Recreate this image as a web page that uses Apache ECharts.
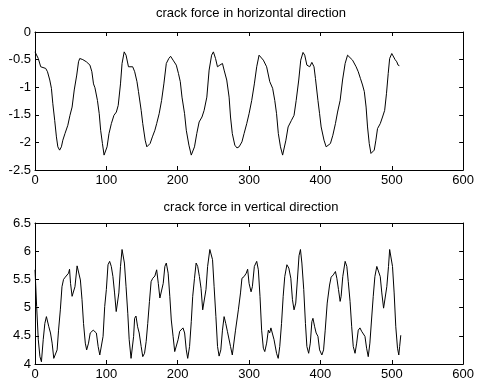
<!DOCTYPE html>
<html>
<head>
<meta charset="utf-8">
<script src="https://cdn.jsdelivr.net/npm/echarts@6/dist/echarts.min.js"></script>
<style>html,body{margin:0;padding:0;background:#fff}#c{width:477px;height:384px}</style>
</head>
<body>
<div id="c"></div>
<script>
var titles = ["crack force in horizontal direction", "crack force in vertical direction"];
var xTicks = [0, 100, 200, 300, 400, 500, 600];
var hYTicks = [-2.5, -2, -1.5, -1, -0.5, 0];
var vYTicks = [4, 4.5, 5, 5.5, 6, 6.5];

var hX = [0,4.6,8,10.6,15,17.5,20.7,23,25,27.6,30,32,34.5,37,39,42,46,49,52,55,58.5,61,62.7,67,72,77,79.7,82,84,87.5,90,92,94.5,96.8,99,101,103.7,107,110.6,114,116.6,119.8,122,125,127.6,131,133.6,136.9,139.7,142.9,145,148.8,151,154.4,156.7,159,161.3,164.5,168,170.5,174,177.4,180.6,184,187.5,190,193.5,198,201,203.6,206,209.6,212,215.7,219,221,223.5,226.7,230,234,237,240.8,244,247.5,250,253,255.7,259,262.7,265,268.7,272,274,276.5,280,283,286,290,293,296.7,300,303.7,307.4,310.7,314,316.7,320,324.6,329,333,336,338.5,341,344,347,349,351.6,354.7,359.4,363,366,369.6,372.4,375.6,378,381,385,388,391,393,396.5,398.8,401,405,408,410.4,414,417.4,421,424,427.6,431,434.6,438,440.6,445,450,453,456,459,461.5,464,466,468.4,470.8,473,475.4,477.7,480,483.8,487,490,492.6,495,497,500,502,504.6,507,508.8,510.6];
var hY = [-0.36,-0.48,-0.63,-0.66,-0.66,-0.72,-0.87,-1.02,-1.3,-1.6,-1.9,-2.08,-2.14,-2.08,-1.96,-1.84,-1.69,-1.51,-1.36,-1.05,-0.78,-0.54,-0.48,-0.5,-0.54,-0.6,-0.72,-0.94,-1.01,-1.24,-1.48,-1.78,-2.02,-2.23,-2.23,-2.08,-1.84,-1.66,-1.51,-1.45,-1.33,-0.94,-0.57,-0.36,-0.42,-0.63,-0.66,-0.63,-0.72,-0.9,-1.08,-1.42,-1.66,-1.96,-2.08,-2.08,-2.02,-1.9,-1.78,-1.66,-1.48,-1.24,-0.94,-0.57,-0.48,-0.44,-0.51,-0.6,-0.75,-0.9,-1.18,-1.48,-1.78,-2.05,-2.23,-2.23,-2.08,-1.84,-1.63,-1.54,-1.42,-1.18,-0.69,-0.42,-0.36,-0.48,-0.63,-0.6,-0.57,-0.69,-0.87,-1.18,-1.54,-1.84,-2.05,-2.1,-2.08,-1.99,-1.84,-1.66,-1.48,-1.24,-0.94,-0.63,-0.42,-0.44,-0.51,-0.63,-0.9,-1.02,-1.24,-1.48,-1.84,-2.08,-2.23,-2.2,-1.96,-1.72,-1.6,-1.51,-1.24,-0.87,-0.51,-0.37,-0.42,-0.6,-0.63,-0.55,-0.63,-0.84,-1.24,-1.48,-1.72,-1.96,-2.08,-2.11,-2.02,-1.87,-1.66,-1.45,-1.24,-0.87,-0.57,-0.42,-0.4,-0.51,-0.63,-0.72,-0.84,-0.96,-1.08,-1.36,-1.72,-2.02,-2.2,-2.23,-2.14,-1.96,-1.75,-1.66,-1.54,-1.42,-1.11,-0.75,-0.48,-0.39,-0.4,-0.5,-0.54,-0.6,-0.61];

var vX = [0,2.3,4.6,6.9,9,11.5,13.8,16,17.5,19.4,21.7,24,26.3,28.6,31,33,35.5,37.8,40,42.4,45,47,48.4,49.8,52,54,56,59,61.3,63.6,65.9,68,70.5,72.4,75,77.4,79.3,81.6,83.9,86,88.5,90.8,93,95.4,97.7,100,102.3,104.6,106.9,109.2,111.5,113.8,115,117.5,119.8,122,123.5,125.3,127.6,130,132,134.6,136.9,138.2,139.6,141.5,143.8,146,148.8,151,153.5,155.8,158,160.4,162.7,165,168,170.5,172.8,175,177.4,179.7,182,184,186.6,188.9,191,193.5,195.8,198,200.5,202.8,205,207.4,209.7,212,214,216.6,219,221,223.5,225.8,228,230.4,232.7,235,237.3,239.6,241.9,245,246.5,248.8,251,253.5,255.8,258,260.4,262.7,265,267.3,269.6,272,274,276.5,278.8,281,283,285,288,290,293,296,298,300,302.8,304.6,307.4,310.7,313,315.3,317.6,320,322,324.6,327,328.8,330.6,333,335,338.5,340.8,343,345.5,347.8,350,353,355.7,358.5,360.8,363,365.4,367.7,370,372,374,376.6,379,381,383.5,385.8,388,389.5,391.9,394,396.5,398.8,402,404.4,406.7,409.5,412.8,415,418,421,423,425.3,427.6,429,431.3,434.6,437,439,441.5,443.8,446,448.5,450.8,453,455.4,457.7,460,462.4,464.7,467,469.3,471.6,474,476.3,479,481.5,483.8,486,488.5,490.8,493,495.4,497,498.7,501,503.3,505.6,508,509.8,511,512.6];
var vY = [5.67,5.02,4.43,4.13,4.04,4.43,4.72,4.84,4.86,4.66,4.55,4.37,4.1,4.1,4.25,4.6,4.96,5.37,5.5,5.54,5.54,5.61,5.68,5.43,5.2,5.2,5.37,5.74,5.73,5.49,5.14,4.72,4.37,4.25,4.37,4.55,4.52,4.6,4.63,4.55,4.31,4.16,4.19,4.49,5.02,5.32,5.76,5.82,5.73,5.55,5.26,4.93,4.93,5.26,5.73,6.03,6.06,5.79,5.37,4.9,4.43,4.1,4.13,4.49,4.81,4.85,4.66,4.55,4.31,4.13,4.19,4.4,4.72,5.11,5.46,5.52,5.56,5.67,5.43,5.17,5.2,5.43,5.73,5.79,5.61,5.2,4.78,4.49,4.22,4.25,4.43,4.58,4.55,4.64,4.55,4.25,4.1,4.31,4.75,5.2,5.52,5.79,5.73,5.55,5.34,4.96,4.96,5.32,5.73,6.03,6.04,5.85,5.37,4.84,4.31,4.14,4.25,4.6,4.84,4.72,4.58,4.55,4.31,4.16,4.19,4.6,4.6,4.96,5.26,5.52,5.55,5.61,5.68,5.43,5.28,5.37,5.73,5.82,5.67,5.2,4.6,4.28,4.22,4.37,4.6,4.55,4.64,4.61,4.43,4.19,4.1,4.31,4.72,5.2,5.55,5.76,5.7,5.52,5.14,4.96,5.08,5.49,5.92,6.03,5.79,5.32,4.72,4.31,4.19,4.37,4.75,4.81,4.66,4.55,4.49,4.25,4.16,4.25,4.6,5.08,5.4,5.54,5.58,5.64,5.52,5.32,5.11,5.2,5.55,5.82,5.73,5.46,5.11,4.66,4.31,4.19,4.37,4.6,4.64,4.58,4.61,4.49,4.28,4.13,4.37,4.78,5.2,5.55,5.73,5.7,5.55,5.26,4.99,5.02,5.37,5.73,6.03,6.0,5.73,5.26,4.66,4.28,4.16,4.31,4.51];

function pairs(xs, ys) { return xs.map(function (x, i) { return [x, ys[i]]; }); }

var FONT = 'Liberation Sans, Arial, sans-serif';
var grids = [
  { left: 35, width: 433, top: 32, height: 138 },
  { left: 35, width: 433, top: 223, height: 141 }
];
var lineStyle = { color: '#000', width: 1 };
function xAxis(g, pos, labels) {
  return {
    type: 'value', gridIndex: g, position: pos, min: xTicks[0], max: xTicks[xTicks.length - 1], interval: 100,
    axisLine: { show: true, onZero: false, lineStyle: lineStyle },
    axisTick: { show: true, inside: true, length: 4, lineStyle: lineStyle },
    axisLabel: { show: labels, color: '#000', fontSize: 13, fontFamily: FONT, margin: 4 },
    splitLine: { show: false }
  };
}
function yAxis(g, pos, labels, ticks) {
  return {
    type: 'value', gridIndex: g, position: pos, min: ticks[0], max: ticks[ticks.length - 1], interval: 0.5,
    axisLine: { show: true, onZero: false, lineStyle: lineStyle },
    axisTick: { show: true, inside: true, length: 4, lineStyle: lineStyle },
    axisLabel: { show: labels, color: '#000', fontSize: 13, fontFamily: FONT, margin: 4 },
    splitLine: { show: false }
  };
}
var chart = echarts.init(document.getElementById('c'), null, { renderer: 'canvas' });
chart.setOption({
  animation: false,
  backgroundColor: '#fff',
  title: [
    { text: titles[0], left: 251, top: 7, padding: 0, textAlign: 'center',
      textStyle: { fontSize: 13, fontWeight: 'normal', color: '#000', fontFamily: FONT } },
    { text: titles[1], left: 251, top: 201, padding: 0, textAlign: 'center',
      textStyle: { fontSize: 13, fontWeight: 'normal', color: '#000', fontFamily: FONT } }
  ],
  grid: grids,
  xAxis: [xAxis(0, 'bottom', true), xAxis(1, 'bottom', true), xAxis(0, 'top', false), xAxis(1, 'top', false)],
  yAxis: [yAxis(0, 'left', true, hYTicks), yAxis(1, 'left', true, vYTicks), yAxis(0, 'right', false, hYTicks), yAxis(1, 'right', false, vYTicks)],
  series: [
    { type: 'line', xAxisIndex: 0, yAxisIndex: 0, data: pairs(hX, hY), showSymbol: false, symbol: 'none',
      lineStyle: { color: '#000', width: 1 } },
    { type: 'line', xAxisIndex: 1, yAxisIndex: 1, data: pairs(vX, vY), showSymbol: false, symbol: 'none',
      lineStyle: { color: '#000', width: 1 } }
  ]
});
</script>
</body>
</html>
